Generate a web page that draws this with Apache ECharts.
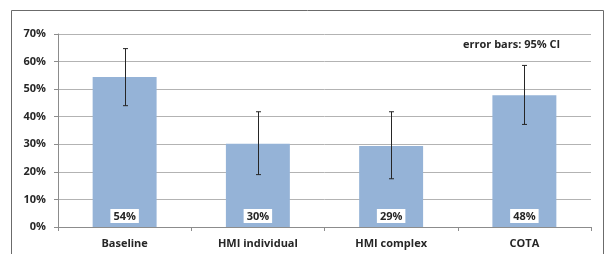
<!DOCTYPE html>
<html lang="en">
<head>
    <meta charset="UTF-8">
    <script src="https://cdn.jsdelivr.net/npm/echarts@6/dist/echarts.min.js"></script>
</head>
<body style="margin:0;background:#fff;">
    <div id="chart" style="width:609px;height:254px;"></div>
    <script>
        var categories = ['Baseline', 'HMI individual', 'HMI complex', 'COTA']
        var shares = [54.4, 30.2, 29.4, 47.8]
        var labels = ['54%', '30%', '29%', '48%']
        var ciLow = [44.0, 19.0, 17.5, 37.2]
        var ciHigh = [64.7, 41.8, 41.8, 58.6]

        var errData = []
        for (var i = 0; i < categories.length; i++) {
            errData.push([i, ciLow[i], ciHigh[i]])
        }

        var myChart = echarts.init(document.getElementById('chart'))
        var option = {
            animation: false,
            grid: { left: 58, right: 18, top: 34, bottom: 27 },
            graphic: [{
                type: 'rect',
                shape: { x: 11.5, y: 10.5, width: 592, height: 260 },
                style: { fill: null, stroke: '#6b6b6b', lineWidth: 1 },
                silent: true
            }, {
                type: 'text',
                left: 463, top: 39,
                style: { text: 'error bars: 95% CI', fontFamily: 'Open Sans', fontWeight: 'bold', fontSize: 11, fill: '#262626' }
            }],
            xAxis: {
                type: 'category',
                data: categories,
                axisLine: { lineStyle: { color: '#8c8c8c' } },
                axisTick: { show: true, length: 4, lineStyle: { color: '#8c8c8c' } },
                axisLabel: { color: '#262626', fontWeight: 'bold', fontFamily: 'Open Sans', fontSize: 11, margin: 11 }
            },
            yAxis: {
                type: 'value',
                min: 0, max: 70, interval: 10,
                axisLine: { show: true, lineStyle: { color: '#8c8c8c' } },
                axisTick: { show: true, length: 4, lineStyle: { color: '#8c8c8c' } },
                axisLabel: { formatter: '{value}%', color: '#262626', fontWeight: 'bold', fontFamily: 'Open Sans', fontSize: 11, margin: 12 },
                splitLine: { lineStyle: { color: '#b3b3b3' } }
            },
            series: [{
                type: 'bar',
                data: shares,
                barWidth: '48%',
                itemStyle: { color: '#95b3d7' },
                label: {
                    show: true,
                    position: 'insideBottom',
                    distance: 4,
                    formatter: function (p) { return labels[p.dataIndex] },
                    backgroundColor: '#fff',
                    padding: [2, 3, 1, 3],
                    color: '#262626',
                    fontWeight: 'bold',
                    fontFamily: 'Open Sans',
                    fontSize: 11
                }
            }, {
                type: 'custom',
                data: errData,
                z: 5,
                renderItem: function (params, api) {
                    var lo = api.coord([api.value(0), api.value(1)])
                    var hi = api.coord([api.value(0), api.value(2)])
                    var x = Math.round(lo[0]) + 0.5
                    var style = { stroke: '#262626', lineWidth: 1 }
                    return {
                        type: 'group',
                        children: [
                            { type: 'line', shape: { x1: x, y1: hi[1], x2: x, y2: lo[1] }, style: style },
                            { type: 'line', shape: { x1: x - 2.5, y1: hi[1], x2: x + 2.5, y2: hi[1] }, style: style },
                            { type: 'line', shape: { x1: x - 2.5, y1: lo[1], x2: x + 2.5, y2: lo[1] }, style: style }
                        ]
                    }
                }
            }]
        }
        myChart.setOption(option)
    </script>
</body>
</html>
